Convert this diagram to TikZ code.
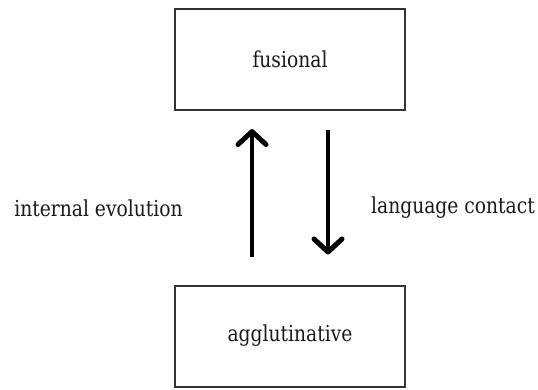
\documentclass[tikz,border=0pt]{standalone}
\usepackage{fontspec}
\setmainfont{DejaVu Serif}[FakeStretch=0.85]
\usetikzlibrary{arrows.meta}
\begin{document}
\begin{tikzpicture}[x=1pt,y=1pt,
    typebox/.style={draw=black!80,line width=2pt,minimum width=230pt,minimum height=101pt,inner sep=0pt},
    change/.style={line width=4.5pt,-{Straight Barb[length=13pt,width=28pt,line width=5pt,line cap=round,line join=round]}},
    every node/.style={font=\fontsize{22}{27}\selectfont,text=black!90}]
  \useasboundingbox (0,0) rectangle (538,-389);
  \draw
    (290,-59.5) node[typebox] (fus){fusional}
    (290,-336) node[typebox] (agg){agglutinative}
    (98.5,-208) node (evo){internal evolution}
    (453,-208) node (con){language contact};
  \begin{scope}[change]
    \draw[shorten <=28pt,shorten >=18pt] ([xshift=-38pt]agg.north) to ([xshift=-38pt]fus.south);
    \draw[shorten <=19pt,shorten >=30pt] ([xshift=38pt]fus.south) to ([xshift=38pt]agg.north);
  \end{scope}
\end{tikzpicture}
\end{document}
